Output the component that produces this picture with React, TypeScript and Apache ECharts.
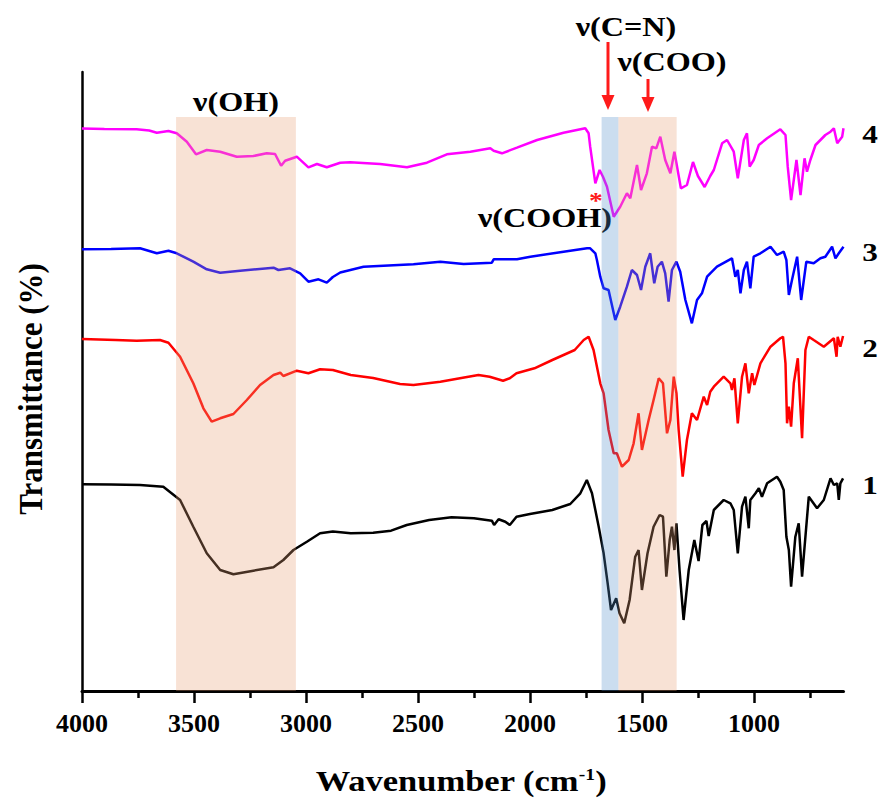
import React, { useEffect, useRef } from "react";
import * as echarts from "echarts";

// Wavenumber (cm-1) tick values
const MAJOR_TICKS = [4000, 3500, 3000, 2500, 2000, 1500, 1000];
const MINOR_TICKS = [3750, 3250, 2750, 2250, 1750, 1250, 750];

// Highlighted bands [start, end] in cm-1, kind 0 = orange, 1 = blue
const BANDS = [
  [3580, 3045],
  [1680, 1605],
  [1605, 1345],
];
const BAND_KIND = [0, 1, 0];
const BAND_TOP = 574;

// Spectra: [wavenumber, transmittance (offset, a.u.)]
const SPECTRUM_4 = [
  [4000, 562.5], [3900, 562], [3756, 561.7], [3700, 560.5], [3666, 558.3], [3614, 560], [3577, 557.7],
  [3532, 549.3], [3491, 536.7], [3443, 541], [3383, 539.3], [3309, 534.3], [3235, 535], [3175, 537.7],
  [3138, 537], [3111, 525.3], [3093, 530.3], [3041, 534.3], [2989, 523.7], [2951, 527], [2907, 523.7],
  [2847, 528.3], [2803, 528.7], [2669, 527], [2549, 523.7], [2460, 528.3], [2371, 536.7], [2266, 539.3],
  [2177, 542.7], [2162, 540.3], [2125, 537.7], [2058, 543.3], [1968, 551], [1850, 558.3], [1753, 562.7],
  [1738, 557.7], [1731, 544.3], [1708, 507.7], [1689, 521], [1674, 514.3], [1656, 504.3], [1626, 474.3],
  [1597, 484.3], [1567, 497.7], [1552, 492.7], [1522, 526], [1504, 501], [1478, 517.7], [1455, 544.3],
  [1436, 542.7], [1418, 554.3], [1396, 531], [1373, 517.7], [1355, 539.3], [1326, 502.7], [1299, 506],
  [1272, 529], [1250, 515], [1220, 504], [1195, 515], [1179, 521], [1142, 547.7], [1120, 551],
  [1090, 539.3], [1072, 512.7], [1045, 551], [1031, 557.7], [1019, 524.3], [1001, 531], [978, 546],
  [941, 552.7], [882, 561.7], [859, 556], [849, 524.3], [834, 491], [810, 531], [792, 496], [774, 532.7],
  [763, 519.3], [748, 531], [725, 546], [681, 556], [658, 559.3], [643, 562.7], [628, 547.7], [606, 554.3],
  [600, 562.7],
];
const SPECTRUM_3 = [
  [4000, 441.7], [3870, 442], [3741, 442.7], [3666, 437.7], [3614, 440.3], [3577, 437.7], [3503, 429.3],
  [3443, 421.7], [3383, 418.3], [3294, 420.3], [3145, 423.3], [3123, 421], [3071, 422.7], [3026, 417.7],
  [2989, 409.3], [2944, 411.7], [2907, 408.3], [2880, 414], [2847, 418.5], [2743, 424.3], [2520, 426.7],
  [2400, 429.3], [2296, 427], [2170, 428.3], [2162, 431.7], [2058, 431.7], [1998, 434.3], [1850, 439.3],
  [1745, 442.7], [1731, 442.7], [1708, 437.7], [1701, 431], [1686, 414.3], [1671, 402.7], [1649, 401],
  [1634, 386], [1619, 371], [1597, 384.3], [1567, 404.3], [1545, 421], [1522, 416], [1504, 401],
  [1485, 424.3], [1463, 437.7], [1445, 407.7], [1430, 424.3], [1411, 429.3], [1396, 417.7], [1381, 389.3],
  [1366, 421], [1346, 429.3], [1329, 419.3], [1306, 391], [1277, 367.7], [1254, 391], [1232, 397.7],
  [1209, 414.3], [1195, 417.7], [1165, 424.3], [1098, 432.7], [1083, 414.3], [1072, 421], [1060, 397.7],
  [1045, 421], [1031, 429.3], [1016, 402.7], [1001, 434.3], [971, 437.7], [926, 444.3], [897, 436],
  [867, 439.3], [855, 431], [844, 396], [830, 411], [807, 434.3], [789, 391], [766, 429.3], [733, 427.7],
  [703, 432.7], [681, 434.3], [666, 439.3], [651, 444.3], [636, 432.7], [621, 437.7], [600, 444.3],
];
const SPECTRUM_2 = [
  [4000, 352], [3850, 351], [3756, 350.3], [3652, 351], [3614, 348.3], [3562, 334.3], [3503, 307.7],
  [3458, 282.7], [3421, 269.3], [3383, 272.7], [3324, 277], [3264, 291], [3205, 306], [3145, 316],
  [3115, 318.3], [3101, 315], [3041, 320.3], [2989, 317.7], [2937, 321.7], [2880, 321], [2800, 316],
  [2700, 313], [2580, 307], [2520, 306], [2400, 309.3], [2300, 313.3], [2230, 316], [2180, 314.3],
  [2120, 310.3], [2090, 312.7], [2060, 317.7], [1980, 322.7], [1900, 331], [1800, 341], [1760, 351],
  [1738, 354.3], [1716, 341], [1686, 307.7], [1671, 297.7], [1649, 261], [1626, 237.7], [1612, 237.7],
  [1589, 224.3], [1559, 231], [1537, 247.7], [1515, 277.7], [1500, 241], [1470, 271], [1448, 291],
  [1425, 312.7], [1406, 307.7], [1388, 257.7], [1373, 271], [1358, 314.3], [1346, 297.7], [1336, 261],
  [1318, 214.3], [1299, 251], [1277, 277.7], [1254, 271], [1224, 294.3], [1209, 286], [1195, 299.3],
  [1179, 304.3], [1135, 314.3], [1105, 307.7], [1098, 301], [1087, 312.7], [1072, 267.7], [1053, 314.3],
  [1038, 327.7], [1023, 297.7], [1008, 317.7], [998, 306], [971, 327.7], [926, 344.3], [882, 352.7],
  [870, 354.3], [859, 327.7], [852, 267.7], [844, 284.3], [834, 264.3], [822, 307.7], [804, 332.7],
  [785, 252.7], [770, 341], [755, 354.3], [733, 351], [688, 344.3], [643, 352.7], [631, 334.3],
  [626, 354.3], [614, 344.3], [602, 355],
];
const SPECTRUM_1 = [
  [4000, 206.7], [3870, 206.5], [3741, 206], [3637, 204.3], [3562, 191], [3503, 164.3], [3443, 137.7],
  [3383, 121], [3324, 116.7], [3235, 120.3], [3145, 123.7], [3101, 131], [3056, 141], [2996, 149.3],
  [2937, 157.7], [2880, 159.5], [2800, 157.7], [2700, 158.3], [2620, 160.3], [2550, 166], [2450, 171],
  [2350, 173.7], [2250, 172.7], [2170, 170.3], [2160, 166], [2140, 171.7], [2110, 169.3], [2090, 166],
  [2060, 174.3], [2000, 177], [1900, 181], [1820, 187], [1775, 197.7], [1746, 211], [1723, 197.7],
  [1693, 164.3], [1671, 137.7], [1653, 107.7], [1638, 81], [1615, 92.7], [1600, 77.7], [1579, 67.7],
  [1555, 91], [1530, 134.3], [1515, 141], [1500, 101], [1475, 137.7], [1448, 164.3], [1421, 176],
  [1406, 174.3], [1391, 114.3], [1376, 151], [1366, 164.3], [1355, 141], [1346, 167.7], [1332, 121],
  [1314, 71], [1291, 121], [1266, 151], [1247, 130], [1230, 166], [1212, 170], [1202, 155], [1179, 181],
  [1135, 191], [1105, 187.7], [1090, 181], [1072, 137.7], [1053, 184.3], [1038, 194.3], [1023, 162.7],
  [1016, 191], [993, 197.7], [978, 202.7], [964, 194.3], [941, 207.7], [897, 214.3], [882, 209.3],
  [867, 201], [855, 154.3], [844, 141], [834, 104.3], [815, 154.3], [800, 167.7], [785, 114.3],
  [755, 194.3], [718, 182.7], [688, 191], [658, 212.7], [643, 206], [628, 207.7], [621, 191],
  [614, 207.7], [602, 212.7],
];

const SERIF = '"Liberation Serif", "Times New Roman", serif';

function txt(text: string, x: number, y: number, size: number, color = "#000", sx = 1.15, extra: any = {}) {
  return {
    type: "text",
    x,
    y,
    scaleX: sx,
    silent: true,
    style: {
      text,
      fill: color,
      font: `bold ${size}px ${SERIF}`,
      align: "center",
      verticalAlign: "middle",
      ...extra,
    },
  };
}

function arrow(x: number, yStart: number, yHeadBase: number, yTip: number) {
  return [
    { type: "line", silent: true, shape: { x1: x, y1: yStart, x2: x, y2: yHeadBase + 1 }, style: { stroke: "#ff1a1a", lineWidth: 3 } },
    {
      type: "polygon",
      silent: true,
      shape: { points: [[x - 6.5, yHeadBase], [x + 6.5, yHeadBase], [x, yTip]] },
      style: { fill: "#ff1a1a" },
    },
  ];
}

export default function App() {
  const ref = useRef<HTMLDivElement>(null);
  useEffect(() => {
    if (!ref.current) return;
    const chart = echarts.init(ref.current, undefined, { renderer: "svg" });
    const lineSeries = (name: string, data: number[][], color: string) => ({
      name,
      type: "line",
      data,
      showSymbol: false,
      symbol: "none",
      lineStyle: { color, width: 2.5 },
      itemStyle: { color },
      z: 2,
      silent: true,
    });
    const option: any = {
      animation: false,
      backgroundColor: "#ffffff",
      grid: { left: 82, right: 35.5, top: 72, bottom: 112, containLabel: false },
      xAxis: [
        {
          type: "value",
          min: 600,
          max: 4000,
          inverse: true,
          position: "bottom",
          axisLine: { show: true, lineStyle: { color: "#000", width: 3 } },
          axisTick: { show: true, customValues: MAJOR_TICKS, length: 12, lineStyle: { color: "#000", width: 2.5 } },
          axisLabel: {
            show: true,
            customValues: MAJOR_TICKS,
            formatter: (v: number) => String(v),
            color: "#000",
            fontFamily: SERIF,
            fontWeight: "bold",
            fontSize: 26,
            margin: 19,
          },
          splitLine: { show: false },
        },
        {
          type: "value",
          min: 600,
          max: 4000,
          inverse: true,
          position: "bottom",
          axisLine: { show: false },
          axisTick: { show: true, customValues: MINOR_TICKS, length: 7, lineStyle: { color: "#000", width: 2.5 } },
          axisLabel: { show: false },
          splitLine: { show: false },
        },
      ],
      yAxis: {
        type: "value",
        min: 0,
        max: 619,
        axisLine: { show: true, lineStyle: { color: "#000", width: 2.5 } },
        axisTick: { show: false },
        axisLabel: { show: false },
        splitLine: { show: false },
      },
      series: [
        lineSeries("1", SPECTRUM_1, "#000000"),
        lineSeries("2", SPECTRUM_2, "#ff0000"),
        lineSeries("3", SPECTRUM_3, "#0000ff"),
        lineSeries("4", SPECTRUM_4, "#ff00ff"),
        {
          type: "custom",
          name: "bands",
          coordinateSystem: "cartesian2d",
          xAxisIndex: 0,
          yAxisIndex: 0,
          silent: true,
          z: 10,
          data: BANDS.map((b, i) => [b[0], b[1], BAND_KIND[i]]),
          encode: { x: [0, 1] },
          renderItem: (params: any, api: any) => {
            const a = api.coord([api.value(0), 0]);
            const b = api.coord([api.value(1), BAND_TOP]);
            const kind = api.value(2);
            return {
              type: "rect",
              shape: {
                x: Math.min(a[0], b[0]),
                y: b[1],
                width: Math.abs(b[0] - a[0]),
                height: a[1] - b[1],
              },
              style: { fill: kind === 1 ? "rgba(83,143,203,0.3)" : "rgba(233,160,117,0.3)" },
            };
          },
        },
      ],
      graphic: [
        // axis titles
        {
          type: "text",
          x: 461,
          y: 781,
          scaleX: 1.15,
          silent: true,
          style: {
            text: "Wavenumber (cm{sup|-1})",
            fill: "#000",
            font: `bold 30px ${SERIF}`,
            align: "center",
            verticalAlign: "middle",
            rich: {
              sup: { font: `bold 17px ${SERIF}`, fill: "#000", verticalAlign: "top", padding: [0, 0, 14, 0] },
            },
          },
        },
        {
          type: "text",
          x: 30,
          y: 389,
          rotation: Math.PI / 2,
          scaleY: 1.1,
          silent: true,
          style: {
            text: "Transmittance (%)",
            fill: "#000",
            font: `bold 31px ${SERIF}`,
            align: "center",
            verticalAlign: "middle",
          },
        },
        // annotations
        txt("ν(OH)", 236, 102, 28),
        txt("ν(C=N)", 626, 27, 28),
        txt("ν(COO)", 672, 62, 28),
        txt("ν(COOH)", 545, 218, 28),
        txt("*", 596, 200, 24, "#ff1a1a", 1.15),
        ...arrow(608, 42, 95, 110),
        ...arrow(648, 79, 97, 112),
        txt("4", 870, 134, 26, "#000", 1.2),
        txt("3", 870, 252, 26, "#000", 1.2),
        txt("2", 870, 348, 26, "#000", 1.2),
        txt("1", 870, 485, 26, "#000", 1.2),
      ],
    };
    chart.setOption(option);
    return () => chart.dispose();
  }, []);
  return (
    <div
      ref={ref}
      style={{ position: "fixed", left: 0, top: 0, width: 879, height: 803, background: "#fff" }}
    />
  );
}
